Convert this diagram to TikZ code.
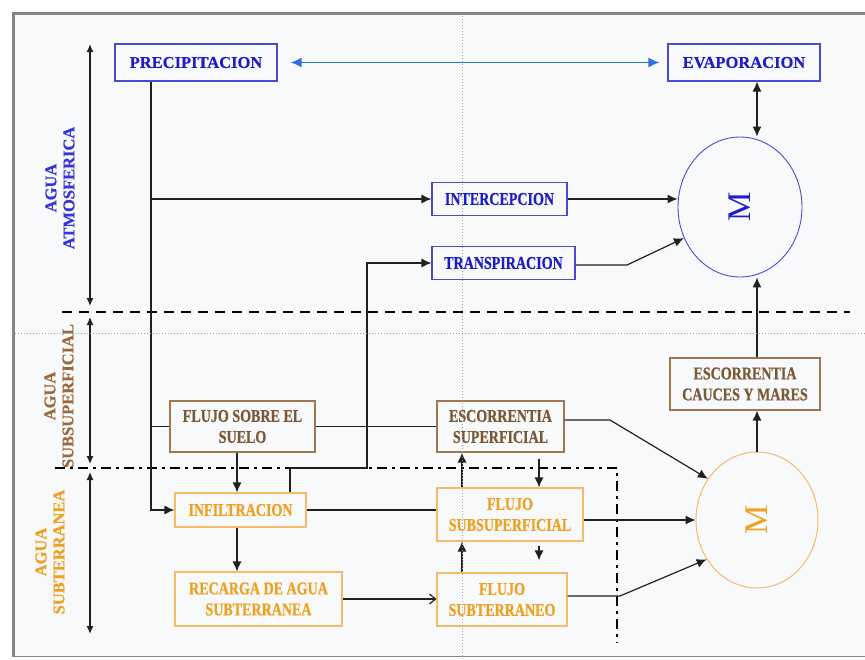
\documentclass[tikz,border=0pt]{standalone}
\usepackage{fontspec}
\setmainfont{Liberation Serif}[BoldFeatures={FakeBold=0.5}]
\newfontfamily\condf{Liberation Serif}[FakeStretch=0.78, BoldFeatures={FakeBold=0.6}]
\usetikzlibrary{arrows.meta,shapes.geometric}
\definecolor{bgc}{HTML}{F8F9FB}
\definecolor{framec}{HTML}{858585}
\definecolor{bluetxt}{HTML}{1E1EC8}
\definecolor{blueline}{HTML}{4A4AD0}
\definecolor{sideblue}{HTML}{3535D8}
\definecolor{arrblue}{HTML}{2F6FE0}
\definecolor{browntxt}{HTML}{7A5A36}
\definecolor{brownline}{HTML}{A07850}
\definecolor{sidebrown}{HTML}{9A6A3A}
\definecolor{ortxt}{HTML}{F0A020}
\definecolor{orline}{HTML}{F4BC6A}
\definecolor{linec}{HTML}{202020}
\definecolor{dotc}{HTML}{A0A0A0}
\begin{document}
\begin{tikzpicture}[x=1pt,y=-1pt,
  box/.style={draw, line width=1.1pt, inner sep=0pt, align=center, fill=bgc},
  topblue/.style={box, draw=blueline, text=bluetxt, font=\bfseries\fontsize{16.5}{18}\selectfont},
  midblue/.style={box, draw=blueline, text=bluetxt, font=\condf\bfseries\fontsize{18}{21}\selectfont},
  brownbox/.style={box, draw=brownline, text=browntxt, font=\condf\bfseries\fontsize{18}{21}\selectfont},
  orbox/.style={box, draw=orline, text=ortxt, font=\condf\bfseries\fontsize{18}{21}\selectfont},
  sidelab/.style={rotate=90, align=center, inner sep=0pt, font=\bfseries\fontsize{16.5}{18}\selectfont},
  mlab/.style={rotate=90, inner sep=0pt, font=\fontsize{33}{33}\selectfont},
  conn/.style={draw=linec, line width=1.2pt},
  arr/.style={conn, -{Latex[length=10pt,width=9pt]}},
  openarr/.style={conn, -{Straight Barb[length=6pt,width=10pt]}},
  dblarr/.style={draw=linec, line width=1.2pt, {Latex[length=8pt,width=7pt]}-{Latex[length=8pt,width=7pt]}},
  dashline/.style={draw=black, line width=2.5pt, dash pattern=on 10pt off 7pt},
  dashdotline/.style={draw=black, line width=2.3pt, dash pattern=on 10pt off 5pt on 3pt off 5pt},
  dotline/.style={draw=dotc, line width=0.8pt, dash pattern=on 1.2pt off 1.8pt}]
\useasboundingbox (0,0) rectangle (865,659);
% background and frame
\fill[white] (0,0) rectangle (865,659);
\fill[bgc] (12,14) rectangle (865,657);
\draw[framec, line width=1pt] (12,656.5) -- (865,656.5);
\draw[framec, line width=3.5pt] (13.5,657) -- (13.5,13.5) -- (865,13.5);

% separators
\draw[dashline] (62,312) -- (850,312);
\draw[dashdotline] (55,468) -- (617,468) -- (617,643);

% side arrows
\coordinate (s1) at (90,44);
\coordinate (s2) at (90,306);
\coordinate (s3) at (90,317);
\coordinate (s4) at (90,464);
\coordinate (s5) at (90,472);
\coordinate (s6) at (90,634);
\draw[dblarr] (s1) -- (s2);
\draw[dblarr] (s3) -- (s4);
\draw[dblarr] (s5) -- (s6);

% side labels
\node[sidelab, text=sideblue] (la) at (60,188) {AGUA\\ATMOSFERICA};
\node[sidelab, text=sidebrown] (lb) at (59,396) {AGUA\\SUBSUPERFICIAL};
\node[sidelab, text=ortxt] (lc) at (50,552) {AGUA\\SUBTERRANEA};

% nodes
\node[topblue, minimum width=162pt, minimum height=37pt] (prec) at (196,62.5) {PRECIPITACION};
\node[topblue, minimum width=152pt, minimum height=37pt] (evap) at (744,62.5) {EVAPORACION};
\node[midblue, minimum width=135pt, minimum height=33pt] (inter) at (499.5,199) {INTERCEPCION};
\node[midblue, minimum width=143pt, minimum height=33pt] (trans) at (503.5,263) {TRANSPIRACION};
\node[ellipse, draw=blueline, line width=0.9pt, minimum width=124pt, minimum height=140pt, inner sep=0pt] (Mb) at (740,207) {};
\node[mlab, text=bluetxt] (Mbl) at (Mb.center) {M};

\node[brownbox, minimum width=145pt, minimum height=51pt] (flujo) at (242.5,426.5) {FLUJO SOBRE EL\\SUELO};
\node[brownbox, minimum width=127pt, minimum height=51pt] (escsup) at (500.5,426.5) {ESCORRENTIA\\SUPERFICIAL};
\node[brownbox, minimum width=150pt, minimum height=52pt] (cauc) at (745,384) {ESCORRENTIA\\CAUCES Y MARES};

\node[orbox, minimum width=131pt, minimum height=34pt] (infil) at (240.5,510) {INFILTRACION};
\node[orbox, minimum width=146pt, minimum height=53pt] (fsub) at (510,514.5) {FLUJO\\SUBSUPERFICIAL};
\node[orbox, minimum width=167pt, minimum height=54pt] (rec) at (258.5,599) {RECARGA DE AGUA\\SUBTERRANEA};
\node[orbox, minimum width=130pt, minimum height=53pt] (fsubt) at (502,599.5) {FLUJO\\SUBTERRANEO};
\node[ellipse, draw=orline, line width=1pt, minimum width=122pt, minimum height=136pt, inner sep=0pt] (Mo) at (757,520) {};
\node[mlab, text=ortxt] (Mol) at (Mo.center) {M};

% helper coordinates
\coordinate (px) at (151,0);
\coordinate (ax) at (757,0);
\coordinate (cx) at (237,0);
\coordinate (ua) at (462,0);
\coordinate (da) at (539,0);
\coordinate (t1) at (290,468);
\coordinate (t2) at (367,468);
\coordinate (k1) at (627,265);
\coordinate (k2) at (610,420);
\coordinate (k3) at (620,596);

% connectors
\draw[arrblue, line width=1.6pt, {Latex[length=11pt,width=10pt]}-{Latex[length=11pt,width=10pt]}, shorten <=13pt, shorten >=8pt] (prec.east) -- (evap.west);
\draw[dblarr, {Latex[length=10pt,width=9pt]}-{Latex[length=10pt,width=9pt]}] (evap.south -| ax) -- (ax |- Mb.north);
\draw[arr] (prec.south -| px) |- (infil.west);
\draw[arr] (px |- inter.west) -- (inter.west);
\draw[conn] (px |- flujo.west) -- (flujo.west);
\draw[arr] (inter.east) -- (inter.east -| Mb.west);
\draw[arr] (trans.east |- k1) -- (k1) -- (Mb.209);
\draw[arr] (infil.north -| t1) -- (t1) -- (t2) |- (trans.west);
\draw[conn] (flujo.east) -- (escsup.west);
\draw[arr] (cx |- flujo.south) -- (cx |- infil.north);
\draw[arr] (cx |- infil.south) -- (cx |- rec.north);
\draw[conn] (infil.east) -- (infil.east -| fsub.west);
\draw[openarr] (rec.east) -- (rec.east -| fsubt.west);
\draw[arr] (ua |- fsub.north) -- (ua |- escsup.south);
\draw[arr, shorten <=6pt] (da |- escsup.south) -- (da |- fsub.north);
\draw[arr] (ua |- fsubt.north) -- (ua |- fsub.south);
\draw[arr, shorten <=4pt, shorten >=12pt] (da |- fsub.south) -- (da |- fsubt.north);
\draw[arr] (escsup.east |- k2) -- (k2) -- (Mo.140);
\draw[arr] (fsub.east |- Mo.west) -- (Mo.west);
\draw[arr] (fsubt.east |- k3) -- (k3) -- (Mo.218);
\draw[arr] (Mo.north) -- (ax |- cauc.south);
\draw[arr] (ax |- cauc.north) -- (ax |- Mb.south);

% dotted guides
\draw[dotline] (462,16) -- (462,659);
\draw[dotline] (12,333) -- (865,333);
\end{tikzpicture}
\end{document}
